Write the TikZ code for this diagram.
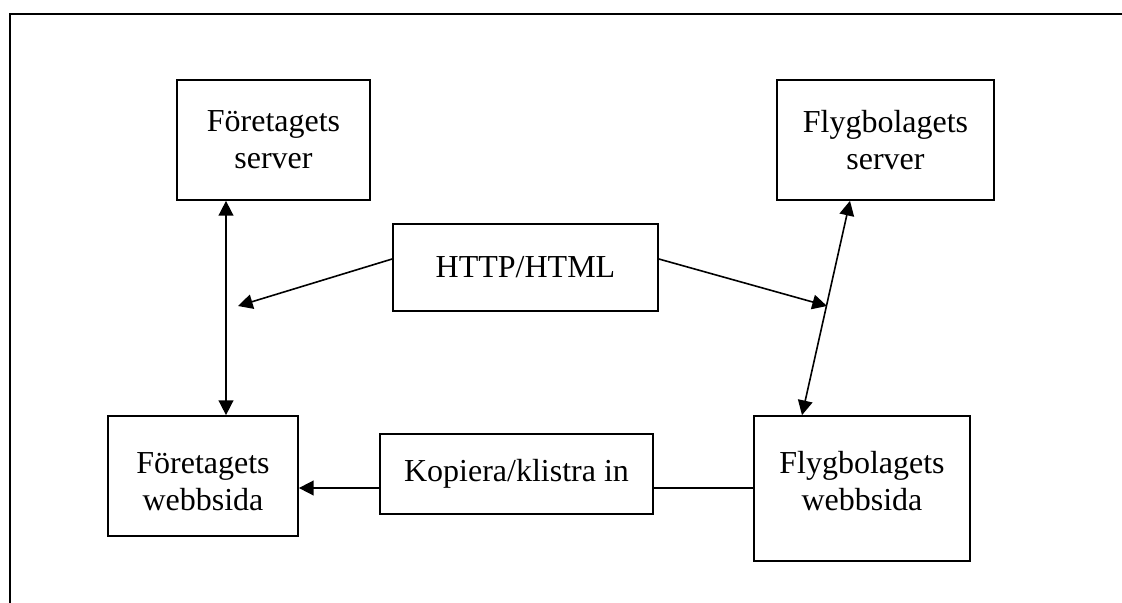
\documentclass[tikz,border=0pt]{standalone}
\usepackage{fontspec}
\setmainfont{Liberation Serif}
\usetikzlibrary{arrows.meta, calc}

\begin{document}
\begin{tikzpicture}[
    x=0.75pt, y=-0.75pt,
    box/.style={rectangle, draw=black, line width=1.3pt, align=center,
                inner sep=0pt, font=\fontsize{24}{27.75}\selectfont},
    arrow/.style={-{Triangle[length=11pt, width=11pt]}, line width=1.2pt},
    twoway/.style={{Triangle[length=11pt, width=11pt]}-{Triangle[length=11pt, width=11pt]}, line width=1.2pt}
]
    \useasboundingbox (0,0) rectangle (1122,603);

    % Frame
    \draw[line width=1.5pt] (10,603) -- (10,14) -- (1122,14);

    % Servers
    \node[box, minimum width=144.75pt, minimum height=90pt] (fserver) at (273.5,140) {F\"oretagets\\server};
    \node[box, minimum width=162.75pt, minimum height=90pt] (yserver) at (885.5,140) {Flygbolagets\\server};

    % Protocol
    \node[box, minimum width=198.75pt, minimum height=65.25pt] (http) at (525.5,267.5) {HTTP/HTML};

    % Web pages
    \node[box, minimum width=142.5pt, text height=70.5pt, text depth=19.5pt, anchor=base] (fwebb) at (203,510) {F\"oretagets\\webbsida};
    \node[box, minimum width=162pt, text height=70.5pt, text depth=38.25pt, anchor=base] (ywebb) at (862,510) {Flygbolagets\\webbsida};

    % Copy step
    \node[box, minimum width=204.75pt, minimum height=60pt] (kopiera) at (516.5,474) {Kopiera/klistra in};

    % Arrows
    \coordinate (fline) at ($(fserver.south)+(-47.5,0)$);
    \coordinate (yline) at ($(yserver.south)+(-35.5,0)$);
    \coordinate (copyline) at ($(kopiera.west)+(0,14)$);
    \coordinate (lefttip) at (238,306);
    \coordinate (righttip) at (827,306);

    \draw[twoway] (fline) -- (fline |- fwebb.north);
    \draw[twoway] (yline) -- ($(ywebb.north)+(-60,0)$);
    \draw[arrow] ($(http.west)+(0,-8.5)$) -- (lefttip);
    \draw[arrow] ($(http.east)+(0,-8.5)$) -- (righttip);
    \draw[arrow] (copyline) -- (copyline -| fwebb.east);
    \draw[line width=1.2pt] (copyline -| kopiera.east) -- (copyline -| ywebb.west);

\end{tikzpicture}
\end{document}
